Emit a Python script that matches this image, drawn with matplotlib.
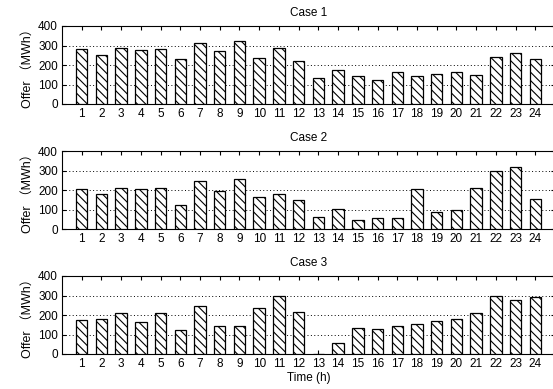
import numpy as np
import matplotlib
matplotlib.use("Agg")
import matplotlib.pyplot as plt

plt.rcParams['font.family'] = ['Liberation Sans', 'Noto Sans CJK SC', 'DejaVu Sans']
plt.rcParams['hatch.linewidth'] = 0.8

hours = list(range(1, 25))
case1 = [280, 250, 285, 275, 280, 230, 315, 270, 325, 235, 285, 220,
         135, 175, 145, 125, 165, 145, 155, 165, 150, 240, 260, 230]
case2 = [205, 178, 210, 205, 210, 122, 245, 195, 255, 162, 178, 148,
         60, 103, 45, 55, 55, 205, 85, 95, 210, 300, 320, 152]
case3 = [175, 180, 210, 165, 210, 125, 245, 145, 145, 235, 300, 215,
         0, 55, 135, 130, 145, 155, 170, 180, 210, 300, 275, 290]
titles = ["Case 1", "Case 2", "Case 3"]
yticks = [0, 100, 200, 300, 400]

W, H = 553, 389
fig = plt.figure(figsize=(W / 100, H / 100), dpi=100)

for i, (vals, title) in enumerate(zip([case1, case2, case3], titles)):
    top = 26 + 125 * i
    bottom = top + 78
    ax = fig.add_axes([62 / W, 1 - bottom / H, 493 / W, 78 / H])
    ax.bar(hours, vals, width=0.58, color='white', edgecolor='black',
           linewidth=0.9, hatch='\\\\\\\\', zorder=3)
    ax.set_xlim(0, 25)
    ax.set_ylim(0, 400)
    ax.set_xticks(hours)
    ax.set_yticks(yticks)
    ax.tick_params(direction='in', top=True, right=True, length=3,
                   labelsize=8.5, pad=3, width=0.8)
    for s in ax.spines.values():
        s.set_linewidth(0.8)
    ax.yaxis.grid(True, linestyle=(0, (1, 2.5)), color='black', linewidth=0.7)
    ax.set_axisbelow(True)
    ax.set_title(title, fontsize=8.5, pad=7)
    ax.set_ylabel("Offer （MWh）", fontsize=9, labelpad=3)
    if i == 2:
        ax.set_xlabel("Time (h)", fontsize=8.5, labelpad=1)

fig.savefig("out.png", dpi=100)
